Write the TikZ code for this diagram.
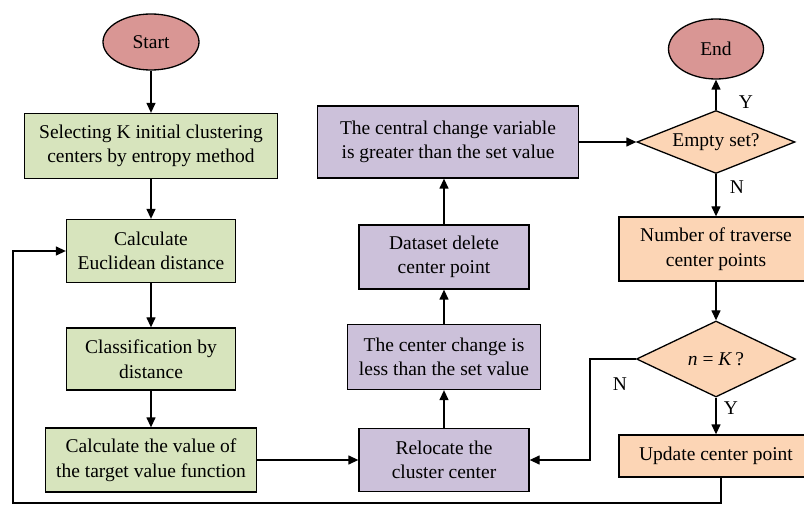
\documentclass[tikz,border=0pt]{standalone}
\usepackage{fontspec}
\setmainfont{Liberation Serif}
\usetikzlibrary{arrows.meta,shapes.geometric}
\definecolor{boxgreen}{HTML}{D7E4BD}
\definecolor{boxpurple}{HTML}{CCC1DA}
\definecolor{boxpeach}{HTML}{FCD5B5}
\definecolor{ovalred}{HTML}{D99694}
\begin{document}
\begin{tikzpicture}[x=1pt,y=-1pt,
  every node/.style={font=\fontsize{19.5}{24.5}\selectfont, text=black},
  base/.style={draw=black, line width=1.3pt, align=center, inner sep=0pt},
  gbox/.style={base, fill=boxgreen},
  pbox/.style={base, fill=boxpurple},
  obox/.style={base, fill=boxpeach},
  oval/.style={base, ellipse, fill=ovalred},
  dia/.style={base, diamond, fill=boxpeach},
  arr/.style={draw=black, line width=1.3pt, -{Triangle[length=10pt,width=9pt]}},
  ln/.style={draw=black, line width=1.3pt},
  lbl/.style={inner sep=0pt}
]
\useasboundingbox (0,0) rectangle (804,505);
\fill[white] (0,0) rectangle (804,505);

% left column
\node[oval, minimum width=96pt, minimum height=56pt] (start) at (151,42) {Start};
\node[gbox, minimum width=253pt, minimum height=65pt] (sel) at (151,146) {Selecting K initial clustering\\centers by entropy method};
\node[gbox, minimum width=169pt, minimum height=63pt] (euc) at (151,251) {Calculate\\Euclidean distance};
\node[gbox, minimum width=169pt, minimum height=62pt] (cls) at (151,359) {Classification by\\distance};
\node[gbox, minimum width=211pt, minimum height=64pt] (tgt) at (151,460) {Calculate the value of\\the target value function};

% middle column
\node[pbox, minimum width=261pt, minimum height=72pt] (gt) at (448,142) {The central change variable\\is greater than the set value};
\node[pbox, minimum width=170pt, minimum height=64pt] (del) at (444,257) {Dataset delete\\center point};
\node[pbox, minimum width=193pt, minimum height=65pt] (less) at (444,357) {The center change is\\less than the set value};
\node[pbox, minimum width=170pt, minimum height=63pt] (rel) at (444,460) {Relocate the\\cluster center};

% right column
\node[oval, minimum width=95pt, minimum height=60pt] (end) at (716,49) {End};
\node[dia, aspect=2.5, minimum width=158pt, minimum height=63pt] (empty) at (716,142) {Empty set?};
\node[obox, minimum width=194pt, minimum height=64pt] (num) at (716,249) {Number of traverse\\center points};
\node[dia, aspect=2.1, minimum width=159pt, minimum height=76pt] (nk) at (716,359) {\textit{n} = \textit{K}\,?};
\node[obox, minimum width=194pt, minimum height=42pt] (upd) at (716,456) {Update center point};

% labels
\node[lbl] (ly1) at (746,102) {Y};
\node[lbl] (ln1) at (737,187) {N};
\node[lbl] (ly2) at (731,408) {Y};
\node[lbl] (ln2) at (620,384) {N};

% connectors
\draw[arr] (start) -- (sel);
\draw[arr] (sel) -- (euc);
\draw[arr] (euc) -- (cls);
\draw[arr] (cls) -- (tgt);
\draw[arr] (tgt) -- (rel);
\draw[arr] (rel) -- (less);
\draw[arr] (less) -- (del);
\draw[arr] (del.north) -- (del.north |- gt.south);
\draw[arr] (gt.east) -- (empty.west);
\draw[arr] (empty) -- (end);
\draw[arr] (empty) -- (num);
\draw[arr] (num) -- (nk);
\draw[arr] (nk) -- (upd);
\coordinate (nbend) at (590,359);
\draw[arr] (nk.west) -- (nbend) |- (rel.east);
\coordinate (fb1) at (721,503);
\coordinate (fb2) at (13,503);
\draw[arr] (upd.south -| fb1) -- (fb1) -- (fb2) |- (euc.west);
\end{tikzpicture}
\end{document}
